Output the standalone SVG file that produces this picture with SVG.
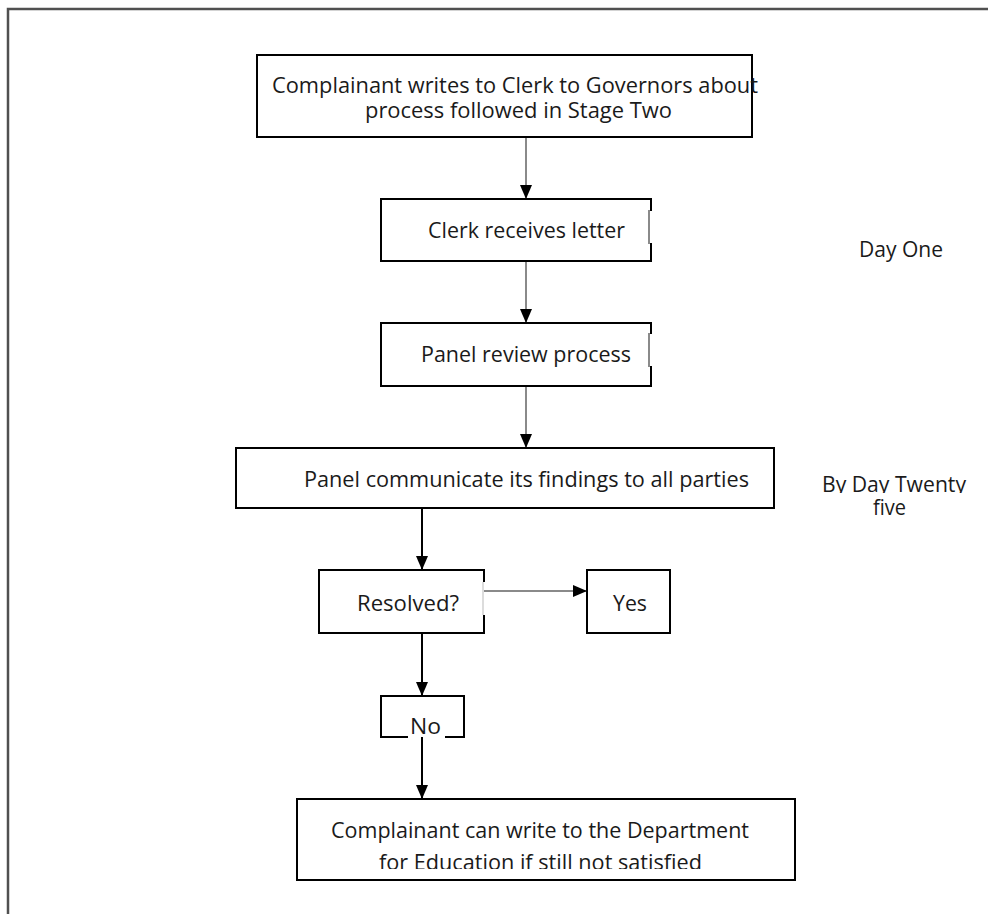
<svg xmlns="http://www.w3.org/2000/svg" width="988" height="914" viewBox="0 0 988 914">
<style>
.box{fill:#fff;stroke:#000;stroke-width:2}
.edge{fill:none;stroke:#000;stroke-width:2}
.t{font-family:"Open Sans","Liberation Sans",sans-serif;font-size:21px;fill:#1a1a1a}
.gray{stroke:#8a8a8a;stroke-width:2;fill:none}
.blk{stroke:#000;stroke-width:2;fill:none}
.frame{fill:none;stroke:#505050;stroke-width:2.5}
</style>
<defs>
<marker id="ah" markerUnits="userSpaceOnUse" markerWidth="14" markerHeight="12" refX="14" refY="6" orient="auto">
<path d="M0,0 L14,6 L0,12 z" fill="#000"/>
</marker>
<clipPath id="clipTwenty"><rect x="780" y="460" width="208" height="33"/></clipPath>
<clipPath id="clipBottom"><rect x="297" y="845" width="498" height="24"/></clipPath>
</defs>
<rect width="988" height="914" fill="#fff"/>
<path class="frame" d="M8,914 V9 H988"/>

<g id="connectors">
<line class="gray" x1="526" y1="137" x2="526" y2="199" marker-end="url(#ah)"/>
<line class="gray" x1="526" y1="261" x2="526" y2="323" marker-end="url(#ah)"/>
<line class="gray" x1="526" y1="386" x2="526" y2="448" marker-end="url(#ah)"/>
<line class="blk" x1="422" y1="508" x2="422" y2="570" marker-end="url(#ah)"/>
<line class="gray" x1="484" y1="591" x2="587" y2="591" marker-end="url(#ah)"/>
<line class="blk" x1="422" y1="633" x2="422" y2="696" marker-end="url(#ah)"/>
<line class="blk" x1="422" y1="737" x2="422" y2="799" marker-end="url(#ah)"/>
</g>

<g id="n-complainant-writes">
<rect class="box" x="257" y="55" width="495" height="82"/>
<text class="t" x="272" y="93" textLength="486" lengthAdjust="spacingAndGlyphs">Complainant writes to Clerk to Governors about</text>
<text class="t" x="365" y="118" textLength="307" lengthAdjust="spacingAndGlyphs">process followed in Stage Two</text>
</g>

<g id="n-clerk-receives">
<rect x="381" y="199" width="270" height="62" fill="#fff"/>
<path class="edge" d="M651,211 V199 H381 V261 H651 V243"/>
<line x1="649" y1="210" x2="649" y2="244" stroke="#8a8a8a" stroke-width="2"/>
<text class="t" x="428" y="238" textLength="197" lengthAdjust="spacingAndGlyphs">Clerk receives letter</text>
</g>

<g id="n-panel-review">
<rect x="381" y="323" width="270" height="63" fill="#fff"/>
<path class="edge" d="M651,334 V323 H381 V386 H651 V366"/>
<line x1="649" y1="333" x2="649" y2="367" stroke="#8a8a8a" stroke-width="2"/>
<text class="t" x="421" y="362" textLength="210" lengthAdjust="spacingAndGlyphs">Panel review process</text>
</g>

<g id="n-communicate">
<rect class="box" x="236" y="448" width="538" height="60"/>
<text class="t" x="304" y="487" textLength="445" lengthAdjust="spacingAndGlyphs">Panel communicate its findings to all parties</text>
</g>

<g id="n-resolved">
<rect x="319" y="570" width="165" height="63" fill="#fff"/>
<path class="edge" d="M484,582 V570 H319 V633 H484 V615"/>
<line x1="483" y1="582" x2="483" y2="615" stroke="#d0d0d0" stroke-width="1.5"/>
<text class="t" x="357" y="611" textLength="102" lengthAdjust="spacingAndGlyphs">Resolved?</text>
</g>

<g id="n-yes">
<rect class="box" x="587" y="570" width="83" height="63"/>
<text class="t" x="613" y="611" textLength="34" lengthAdjust="spacingAndGlyphs">Yes</text>
</g>

<g id="n-no">
<path class="edge" d="M408,737 H381 V696 H464 V737 H445"/>
<text class="t" x="410" y="734" textLength="31" lengthAdjust="spacingAndGlyphs">No</text>
</g>

<g id="n-department">
<rect class="box" x="297" y="799" width="498" height="81"/>
<text class="t" x="331" y="838" textLength="418" lengthAdjust="spacingAndGlyphs">Complainant can write to the Department</text>
<text class="t" x="379" y="870" textLength="323" lengthAdjust="spacingAndGlyphs" clip-path="url(#clipBottom)">for Education if still not satisfied</text>
</g>

<g id="label-day-one">
<text class="t" x="859" y="257" textLength="84" lengthAdjust="spacingAndGlyphs">Day One</text>
</g>

<g id="label-day-twenty-five">
<text class="t" x="822" y="492" textLength="144" lengthAdjust="spacingAndGlyphs" clip-path="url(#clipTwenty)">By Day Twenty</text>
<text class="t" x="873" y="515" textLength="33" lengthAdjust="spacingAndGlyphs">five</text>
</g>
</svg>
